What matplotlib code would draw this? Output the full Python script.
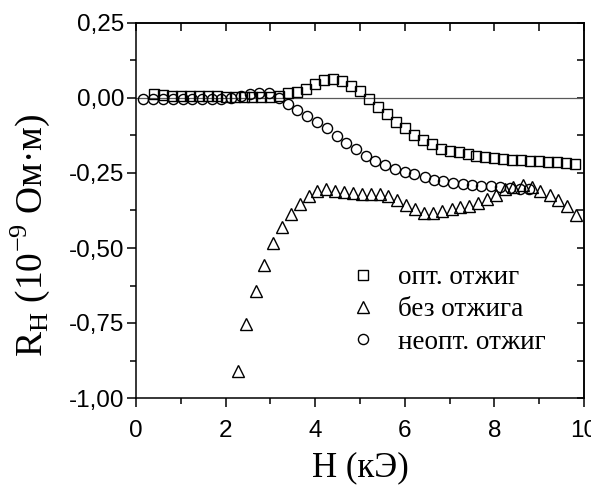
import matplotlib
matplotlib.use("Agg")
import matplotlib.pyplot as plt
from matplotlib.ticker import MultipleLocator, FixedLocator, FixedFormatter

# --- data: Hall resistance vs magnetic field ---
h_opt = [0.4, 0.6, 0.8, 1.0, 1.2, 1.4, 1.6, 1.8, 2.0, 2.2, 2.4, 2.6, 2.8, 3.0,
         3.2, 3.4, 3.6, 3.8, 4.0, 4.2, 4.4, 4.6, 4.8, 5.0, 5.2, 5.4, 5.6, 5.8,
         6.0, 6.2, 6.4, 6.6, 6.8, 7.0, 7.2, 7.4, 7.6, 7.8, 8.0, 8.2, 8.4, 8.6,
         8.8, 9.0, 9.2, 9.4, 9.6, 9.8]
r_opt = [0.012, 0.010, 0.008, 0.007, 0.006, 0.006, 0.005, 0.005, 0.004, 0.003,
         0.002, 0.002, 0.002, 0.003, 0.006, 0.016, 0.020, 0.030, 0.047, 0.060,
         0.063, 0.058, 0.041, 0.022, -0.004, -0.029, -0.054, -0.081, -0.101,
         -0.123, -0.140, -0.155, -0.170, -0.176, -0.181, -0.188, -0.193,
         -0.198, -0.201, -0.203, -0.206, -0.207, -0.209, -0.210, -0.212,
         -0.215, -0.218, -0.220]

h_none = [2.27, 2.46, 2.67, 2.86, 3.05, 3.26, 3.46, 3.66, 3.86, 4.05, 4.24,
          4.44, 4.64, 4.84, 5.04, 5.24, 5.45, 5.63, 5.83, 6.03, 6.23, 6.43,
          6.64, 6.84, 7.05, 7.23, 7.44, 7.64, 7.84, 8.04, 8.24, 8.42, 8.63,
          8.83, 9.02, 9.23, 9.43, 9.61, 9.82]
r_none = [-0.910, -0.754, -0.643, -0.556, -0.483, -0.429, -0.388, -0.354,
          -0.328, -0.310, -0.305, -0.310, -0.312, -0.318, -0.320, -0.320,
          -0.320, -0.327, -0.340, -0.357, -0.371, -0.382, -0.384, -0.376,
          -0.371, -0.364, -0.360, -0.349, -0.338, -0.323, -0.304, -0.296,
          -0.290, -0.296, -0.309, -0.323, -0.340, -0.359, -0.390]

h_nonopt = [0.16, 0.39, 0.61, 0.82, 1.04, 1.26, 1.47, 1.69, 1.90, 2.12, 2.34,
            2.54, 2.75, 2.97, 3.20, 3.40, 3.60, 3.81, 4.03, 4.26, 4.48, 4.69,
            4.91, 5.13, 5.33, 5.56, 5.78, 6.00, 6.21, 6.44, 6.65, 6.86, 7.07,
            7.29, 7.49, 7.70, 7.92, 8.13, 8.35, 8.57, 8.78]
r_nonopt = [-0.003, -0.003, -0.003, -0.003, -0.003, -0.003, -0.003, -0.003,
            -0.002, 0.001, 0.007, 0.012, 0.018, 0.016, -0.001, -0.019, -0.040,
            -0.061, -0.079, -0.101, -0.127, -0.149, -0.171, -0.193, -0.209,
            -0.225, -0.236, -0.246, -0.255, -0.264, -0.272, -0.278, -0.282,
            -0.286, -0.289, -0.292, -0.295, -0.297, -0.300, -0.302, -0.304]

labels = ["опт. отжиг", "без отжига", "неопт. отжиг"]

x_ticks = [0, 2, 4, 6, 8, 10]
x_tick_labels = ["0", "2", "4", "6", "8", "10"]
y_ticks = [0.25, 0.0, -0.25, -0.5, -0.75, -1.0]
y_tick_labels = ["0,25", "0,00", "-0,25", "-0,50", "-0,75", "-1,00"]

SANS = "Liberation Sans"
SERIF = "Liberation Serif"

fig = plt.figure(figsize=(5.91, 4.93), dpi=100)
ax = fig.add_axes([136 / 591, 1 - 398 / 493, 448 / 591, 375 / 493])

ax.axhline(0, color="0.35", lw=0.9, zorder=1)

mk = dict(linestyle="none", mfc="none", mec="black", mew=1.0, zorder=3)
ax.plot(h_opt, r_opt, marker="s", ms=6.8, label=labels[0], **mk)
ax.plot(h_none, r_none, marker="^", ms=8.7, label=labels[1], **mk)
ax.plot(h_nonopt, r_nonopt, marker="o", ms=7.3, label=labels[2], **mk)

ax.set_xlim(0, 10)
ax.set_ylim(-1.0, 0.25)

# bottom / left: outward ticks with labels
ax.xaxis.set_major_locator(FixedLocator(x_ticks))
ax.xaxis.set_major_formatter(FixedFormatter(x_tick_labels))
ax.xaxis.set_minor_locator(MultipleLocator(1))
ax.yaxis.set_major_locator(FixedLocator(y_ticks))
ax.yaxis.set_major_formatter(FixedFormatter(y_tick_labels))
ax.yaxis.set_minor_locator(MultipleLocator(0.125))
ax.tick_params(which="major", direction="out", length=6.5, width=1.1,
               labelsize=17.5, top=False, right=False)
ax.tick_params(which="minor", direction="out", length=4, width=1.1,
               top=False, right=False)
ax.tick_params(axis="x", which="major", pad=9)
ax.tick_params(axis="y", which="major", pad=2)
for lab in ax.get_xticklabels() + ax.get_yticklabels():
    lab.set_fontfamily(SANS)

# top / right: inward ticks without labels
top = ax.secondary_xaxis("top")
top.xaxis.set_major_locator(MultipleLocator(1))
top.tick_params(direction="in", length=5.5, width=1.1, labeltop=False)
right = ax.secondary_yaxis("right")
right.yaxis.set_major_locator(MultipleLocator(0.125))
right.tick_params(direction="in", length=5, width=1.1, labelright=False)

for sp in list(ax.spines.values()) + list(top.spines.values()) + list(right.spines.values()):
    sp.set_linewidth(1.1)

ax.set_xlabel("H (кЭ)", fontfamily=SERIF, fontsize=25, va="center")
ax.xaxis.set_label_coords(0.5, -0.185)
ax.set_ylabel(r"R$_\mathregular{H}$ (10$^\mathregular{-9}$ Ом·м)",
              fontfamily=SERIF, fontsize=27, va="center")
ax.yaxis.set_label_coords(-0.235, 0.435)

leg = ax.legend(loc="center left", bbox_to_anchor=(0.4766, 0.235), frameon=False,
                prop={"family": SERIF, "size": 19.5}, handlelength=1.0,
                handletextpad=0.79, labelspacing=0.27, borderpad=0,
                borderaxespad=0)

fig.savefig("out.png", dpi=100)
